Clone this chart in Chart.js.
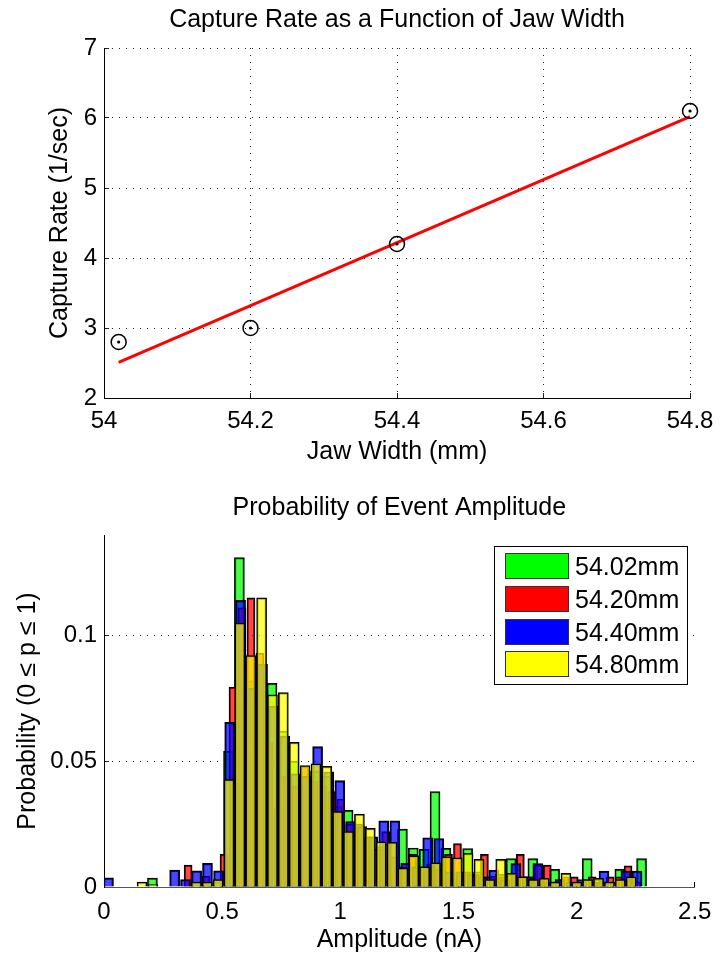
<!DOCTYPE html>
<html>
<head>
<meta charset="utf-8">
<title>Capture Rate / Event Amplitude</title>
<script src="https://cdn.jsdelivr.net/npm/chart.js@4.4.1/dist/chart.umd.min.js"></script>
<style>
  body { margin: 0; background: #fff; }
  canvas { display: block; }
</style>
</head>
<body>
<canvas id="rateChart" width="727" height="480"></canvas>
<canvas id="ampChart" width="727" height="478"></canvas>
<script>
// capture rate vs jaw width
const jawWidth = [54.02, 54.2, 54.4, 54.8];
const captureRate = [2.8, 3.0, 4.2, 6.1];
const fitX = [54.02, 54.8];
const fitY = [2.51, 6.02];

// histogram bins (bin centre in nA, probability) for each jaw width
const greenX = [0.205, 0.389, 0.435, 0.481, 0.527, 0.573, 0.619, 0.665, 0.711, 0.757, 0.803, 0.849, 0.895, 0.941, 0.987,
  1.033, 1.079, 1.125, 1.171, 1.217, 1.263, 1.309, 1.355, 1.401, 1.447, 1.493, 1.539, 1.585, 1.631, 1.677, 1.723,
  1.769, 1.815, 1.861, 1.907, 1.953, 1.999, 2.045, 2.091, 2.137, 2.183, 2.229, 2.275];
const greenY = [0.0035, 0.001, 0.001, 0.002, 0.054, 0.131, 0.082, 0.088, 0.081, 0.062, 0.05, 0.044, 0.046, 0.044, 0.032,
  0.0305, 0.025, 0.02, 0.016, 0.012, 0.023, 0.0155, 0.015, 0.038, 0.0154, 0.005, 0.0153, 0.006, 0.004, 0.005, 0.0113,
  0.004, 0.0113, 0.003, 0.007, 0.003, 0.002, 0.0113, 0.003, 0.002, 0.007, 0.003, 0.0113];

const redX = [0.356, 0.432, 0.508, 0.546, 0.584, 0.622, 0.660, 0.698, 0.736, 0.774, 0.812, 0.850, 0.888, 0.926, 0.964,
  1.002, 1.040, 1.078, 1.116, 1.154, 1.192, 1.230, 1.268, 1.306, 1.344, 1.382, 1.420, 1.458, 1.496, 1.534, 1.572,
  1.610, 1.648, 1.686, 1.724, 1.762, 1.800, 1.838, 1.876, 1.914, 1.952, 1.990, 2.028, 2.066, 2.104, 2.142, 2.180,
  2.218, 2.256];
const redY = [0.0087, 0.0043, 0.013, 0.0795, 0.111, 0.115, 0.093, 0.0575, 0.031, 0.044, 0.04, 0.048, 0.042, 0.04, 0.038,
  0.035, 0.025, 0.025, 0.02, 0.015, 0.022, 0.012, 0.008, 0.013, 0.008, 0.009, 0.007, 0.013, 0.0173, 0.006, 0.005,
  0.013, 0.0043, 0.004, 0.005, 0.013, 0.004, 0.0087, 0.0087, 0.002, 0.004, 0.004, 0.002, 0.004, 0.002, 0.004, 0.004,
  0.0084, 0.002];

const blueX = [0.019, 0.299, 0.345, 0.392, 0.438, 0.485, 0.532, 0.578, 0.625, 0.671, 0.718, 0.765, 0.811, 0.857, 0.904,
  0.951, 0.998, 1.044, 1.091, 1.137, 1.184, 1.231, 1.277, 1.324, 1.370, 1.417, 1.464, 1.510, 1.557, 1.603, 1.650,
  1.697, 1.743, 1.790, 1.836, 1.883, 1.930, 1.976, 2.023, 2.069, 2.116, 2.162, 2.209, 2.256];
const blueY = [0.0036, 0.0067, 0.003, 0.0064, 0.0094, 0.0064, 0.0655, 0.114, 0.079, 0.0887, 0.072, 0.06, 0.045, 0.044, 0.0558,
  0.0458, 0.0423, 0.026, 0.024, 0.02, 0.0263, 0.0263, 0.0094, 0.008, 0.0196, 0.0193, 0.006, 0.006, 0.005, 0.004, 0.0067,
  0.003, 0.0093, 0.004, 0.0093, 0.002, 0.003, 0.002, 0.003, 0.002, 0.0063, 0.002, 0.0063, 0.0063];

const yellowX = [0.161, 0.207, 0.391, 0.437, 0.483, 0.529, 0.575, 0.621, 0.667, 0.713, 0.759, 0.805, 0.851, 0.897, 0.943,
  0.989, 1.035, 1.081, 1.127, 1.173, 1.219, 1.265, 1.311, 1.357, 1.403, 1.449, 1.495, 1.541, 1.587, 1.633, 1.679,
  1.725, 1.771, 1.817, 1.863, 1.909, 1.955, 2.001, 2.047, 2.093, 2.139, 2.185, 2.231];
const yellowY = [0.002, 0.001, 0.002, 0.002, 0.003, 0.0427, 0.105, 0.092, 0.115, 0.0764, 0.0773, 0.0575, 0.0483, 0.049, 0.048,
  0.03, 0.022, 0.029, 0.0233, 0.018, 0.0178, 0.0075, 0.0124, 0.008, 0.0096, 0.012, 0.0116, 0.0134, 0.011, 0.003, 0.011,
  0.0054, 0.004, 0.003, 0.0034, 0.002, 0.0054, 0.002, 0.003, 0.0034, 0.002, 0.003, 0.004];

const seriesLabels = ['54.02mm', '54.20mm', '54.40mm', '54.80mm'];
const seriesRgb = ['0,255,0', '255,0,0', '0,0,255', '255,255,0'];

Chart.defaults.font.family = '"Liberation Sans", Arial, Helvetica, sans-serif';
Chart.defaults.font.size = 24;
Chart.defaults.color = '#000';

const toPoints = (xs, ys) => xs.map((x, i) => ({ x: x, y: ys[i] }));
const plainTick = (v) => String(Math.round(v * 100) / 100);

// legend drawn as a boxed key inside the plot, like the original figure
const boxLegend = {
  id: 'boxLegend',
  afterDraw(chart) {
    const ctx = chart.ctx;
    const area = chart.chartArea;
    const w = 193, h = 138;
    const left = Math.round(area.right - 8 - w);
    const top = Math.round(area.top + 11);
    ctx.save();
    ctx.fillStyle = '#fff';
    ctx.fillRect(left, top, w, h);
    ctx.strokeStyle = '#000';
    ctx.lineWidth = 1;
    ctx.strokeRect(left + 0.5, top + 0.5, w, h);
    ctx.font = '25px "Liberation Sans", Arial, sans-serif';
    ctx.textBaseline = 'middle';
    chart.data.datasets.forEach((ds, i) => {
      const y = top + 8 + Math.round(i * 32.8);
      ctx.fillStyle = ds.legendColor;
      ctx.fillRect(left + 12, y, 62, 24);
      ctx.strokeStyle = '#333';
      ctx.strokeRect(left + 11.5, y - 0.5, 63, 25);
      ctx.fillStyle = '#000';
      ctx.fillText(ds.label, left + 81, y + 14);
    });
    ctx.restore();
  }
};

const rateChart = new Chart(document.getElementById('rateChart'), {
  type: 'scatter',
  data: {
    datasets: [{
      data: toPoints(fitX, fitY),
      showLine: true,
      borderColor: 'rgb(255,0,0)',
      borderWidth: 3,
      pointRadius: 0,
      order: 3,
      clip: false
    }, {
      data: toPoints(jawWidth, captureRate),
      pointRadius: 7.5,
      pointBorderWidth: 1.5,
      pointBorderColor: '#000',
      pointBackgroundColor: 'rgba(0,0,0,0)',
      order: 2,
      clip: false
    }, {
      data: toPoints(jawWidth, captureRate),
      pointRadius: 1.6,
      pointBorderWidth: 0,
      pointBackgroundColor: '#000',
      order: 1,
      clip: false
    }]
  },
  options: {
    responsive: false,
    animation: false,
    layout: { padding: { left: 0, right: 27, top: 0, bottom: 0 } },
    plugins: {
      legend: { display: false },
      tooltip: { enabled: false },
      title: {
        display: true,
        fullSize: false,
        text: 'Capture Rate as a Function of Jaw Width',
        font: { size: 25, weight: 'normal' },
        padding: { top: 5, bottom: 13 }
      }
    },
    scales: {
      x: {
        type: 'linear',
        min: 54, max: 54.8,
        grid: { color: '#222', tickLength: -5 },
        border: { color: '#000', width: 1, dash: [1, 6] },
        ticks: { stepSize: 0.2, padding: 13.6, callback: plainTick },
        title: { display: true, text: 'Jaw Width (mm)', font: { size: 25 }, padding: { top: 0, bottom: 13 } },
        afterFit: (s) => { s.height = 82; }
      },
      y: {
        min: 2, max: 7,
        grid: { color: '#222', tickLength: -5 },
        border: { color: '#000', width: 1, dash: [1, 6] },
        ticks: { stepSize: 1, padding: 12, callback: plainTick },
        title: { display: true, text: 'Capture Rate (1/sec)', font: { size: 25 }, padding: { top: 45, bottom: 0 } },
        afterFit: (s) => { s.width = 104; }
      }
    }
  }
});

const seriesX = [greenX, redX, blueX, yellowX];
const seriesY = [greenY, redY, blueY, yellowY];
const thickness = [10, 8, 10, 10];

const ampChart = new Chart(document.getElementById('ampChart'), {
  type: 'bar',
  data: {
    datasets: seriesLabels.map((label, i) => ({
      label: label,
      data: toPoints(seriesX[i], seriesY[i]),
      backgroundColor: 'rgba(' + seriesRgb[i] + ',0.72)',
      legendColor: 'rgb(' + seriesRgb[i] + ')',
      borderColor: '#000',
      borderWidth: 1.5,
      barThickness: thickness[i],
      grouped: false,
      order: 4 - i
    }))
  },
  options: {
    responsive: false,
    animation: false,
    layout: { padding: { left: 0, right: 27, top: 0, bottom: 0 } },
    plugins: {
      legend: { display: false },
      tooltip: { enabled: false },
      title: {
        display: true,
        fullSize: false,
        text: 'Probability of Event Amplitude',
        font: { size: 25, weight: 'normal' },
        padding: { top: 13, bottom: 12 }
      }
    },
    scales: {
      x: {
        type: 'linear',
        min: 0, max: 2.5,
        offset: false,
        grid: { drawOnChartArea: false, offset: false, color: '#000', tickLength: -5 },
        border: { color: '#555', width: 1 },
        ticks: { stepSize: 0.5, padding: 15.6, callback: plainTick },
        title: { display: true, text: 'Amplitude (nA)', font: { size: 25 }, padding: { top: 0, bottom: 3 } },
        afterFit: (s) => { s.height = 71; }
      },
      y: {
        min: 0, max: 0.14,
        grid: { color: '#222', tickLength: -5 },
        border: { color: '#000', width: 1, dash: [1, 6] },
        ticks: { stepSize: 0.05, includeBounds: false, padding: 12, callback: plainTick },
        title: { display: true, text: 'Probability (0 \u2264 p \u2264 1)', font: { size: 25 }, padding: { top: 13, bottom: 0 } },
        afterFit: (s) => { s.width = 104; }
      }
    }
  },
  plugins: [boxLegend]
});
</script>
</body>
</html>
